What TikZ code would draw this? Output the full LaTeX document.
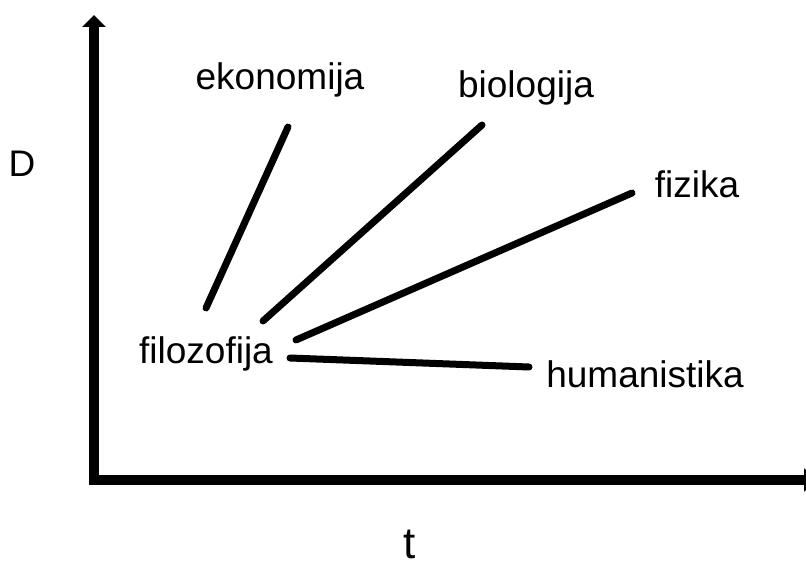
\documentclass[tikz,border=0pt]{standalone}
\usepackage{fontspec}
\setmainfont{Liberation Sans}
\usetikzlibrary{arrows.meta}
\tikzset{
  axis/.style={line width=9.5pt, line join=miter, {Triangle[width=23pt,length=12pt]}-{Triangle[width=23pt,length=12pt]}},
  branch/.style={line width=7pt, line cap=round},
  lbl/.style={inner sep=0pt, anchor=base, font=\fontsize{37}{44}\selectfont}
}
\begin{document}
\begin{tikzpicture}[x=1pt,y=-1pt]
\useasboundingbox (0,0) rectangle (806,569);
\clip (0,0) rectangle (806,569);
% axes
\coordinate (ytop) at (94,15);
\coordinate (origin) at (94,480);
\coordinate (xend) at (816,480);
\draw[axis] (ytop) -- (origin) -- (xend);
% labels
\node[lbl] (D) at (22,177) {D};
\node[lbl, font=\fontsize{44}{52}\selectfont] (t) at (410,558) {t};
\node[lbl] (filo) at (206,363) {filozofija};
\node[lbl] (eko) at (280,90) {ekonomija};
\node[lbl] (bio) at (526,98) {biologija};
\node[lbl] (fiz) at (697,198) {fizika};
\node[lbl] (hum) at (645,388) {humanistika};
% branch end points
\coordinate (e0) at (206,308); \coordinate (e1) at (288,127);
\coordinate (b0) at (263,321); \coordinate (b1) at (482,125);
\coordinate (f0) at (296,340); \coordinate (f1) at (632,193);
\coordinate (h0) at (290,358); \coordinate (h1) at (529,367);
\draw[branch] (e0) -- (e1);
\draw[branch] (b0) -- (b1);
\draw[branch] (f0) -- (f1);
\draw[branch] (h0) -- (h1);
\end{tikzpicture}
\end{document}
